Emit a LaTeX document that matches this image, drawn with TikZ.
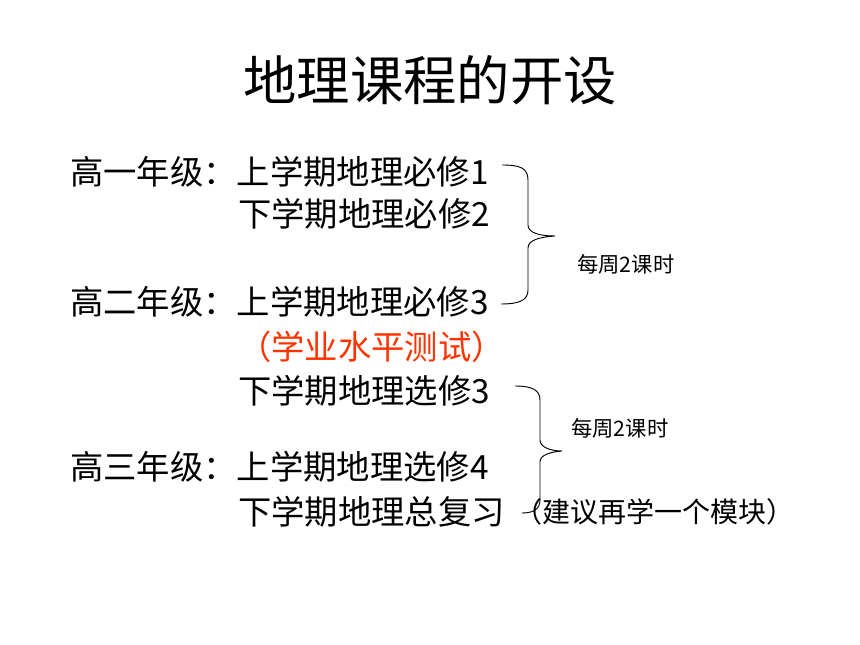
\documentclass[tikz,border=0pt]{standalone}
\usepackage{fontspec}
\usepackage{tikz}
\setmainfont{Noto Sans CJK SC}
\newfontfamily\cjk{Noto Sans CJK SC}
\definecolor{testred}{RGB}{255,51,0}
\tikzset{%
  mytitle/.style={anchor=center, inner sep=0pt, font=\cjk\fontsize{40}{46}\selectfont},
  myline/.style={anchor=west, inner sep=0pt, font=\cjk\fontsize{25}{30}\selectfont},
  mynote/.style={anchor=west, inner sep=0pt, font=\cjk\fontsize{16}{20}\selectfont},
  mybrace/.style={draw=black, line width=0.7pt}
}

\begin{document}
\begin{tikzpicture}[x=0.75pt, y=-0.75pt]
  \useasboundingbox (0,0) rectangle (860,645);
  \node[mytitle] (title) at (430,80) {地理课程的开设};
  % grade one
  \node[myline] (grade1) at (70,172) {高一年级：上学期地理必修1};
  \node[myline] (term2) at (238,214) {下学期地理必修2};
  % grade two
  \node[myline] (grade2) at (70,302) {高二年级：上学期地理必修3};
  \node[myline, text=testred] (exam) at (238,347) {（学业水平测试）};
  \node[myline] (term4) at (238,391) {下学期地理选修3};
  % grade three
  \node[myline] (grade3) at (70,467) {高三年级：上学期地理选修4};
  \node[myline] (term6) at (238,512) {下学期地理总复习};
  \node[myline, font=\cjk\fontsize{21}{25}\selectfont] (advice) at (514,512) {（建议再学一个模块）};
  % braces
  \draw[mybrace] (502,165) .. controls (520,165) and (528,168) .. (528,180) -- (528,225)
    .. controls (528,233) and (540,236) .. (555,236)
    .. controls (540,237) and (528,240) .. (528,248) -- (528,290)
    .. controls (528,300) and (520,304) .. (501,304);
  \node[mynote] (note1) at (577,264) {每周2课时};
  \draw[mybrace] (515,386) .. controls (532,386) and (540,390) .. (540,400) -- (540,440)
    .. controls (540,447) and (550,451) .. (562,451)
    .. controls (550,452) and (540,455) .. (540,462) -- (540,500)
    .. controls (540,510) and (532,513) .. (522,513);
  \node[mynote] (note2) at (571,428) {每周2课时};
\end{tikzpicture}
\end{document}
